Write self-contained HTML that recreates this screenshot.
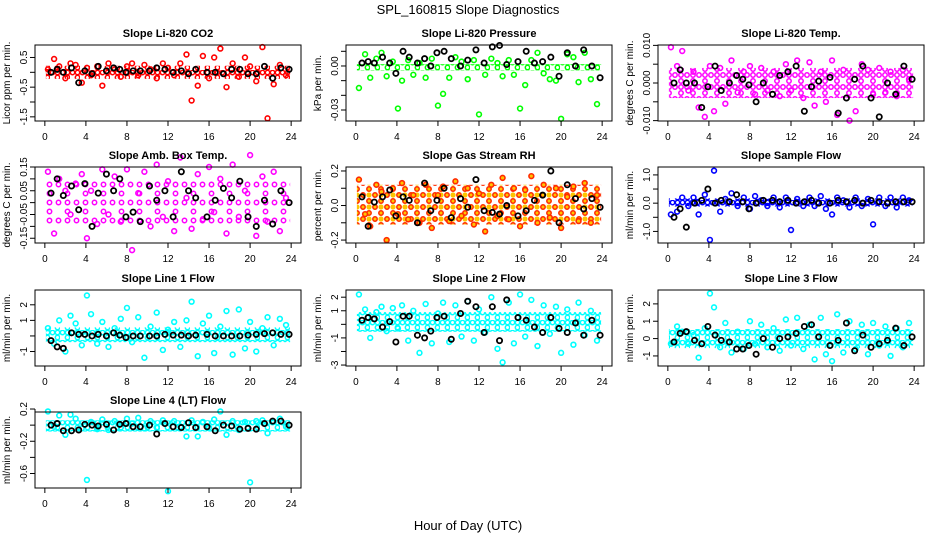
<!DOCTYPE html>
<html><head><meta charset="utf-8"><style>
html,body{margin:0;padding:0;background:#fff;}
svg{display:block;font-family:"Liberation Sans",sans-serif;}
</style></head><body>
<svg id="chart" width="936" height="540" viewBox="0 0 936 540">
<defs id="defs"></defs>
<text x="468" y="14" text-anchor="middle" font-size="13">SPL_160815  Slope Diagnostics</text>
<text x="468" y="530" text-anchor="middle" font-size="13">Hour of Day (UTC)</text>
</svg>
<script>
// shared hours
const xTicks = [0,4,8,12,16,20,24];
const cHours = [0.3,0.9,1.4,2.0,2.5,3.0,3.6,4.1,4.5,5.1,5.6,6.2,6.8,7.4,8.0,8.5,9.1,9.7,10.3,10.9,11.5,12.0,12.6,13.2,13.8,14.3,14.9,15.4,16.0,16.5,17.1,17.7,18.3,18.9,19.5,20.0,20.6,21.2,21.7,22.3,22.9,23.5];
const kHours = [0.6,1.2,1.8,2.6,3.3,3.9,4.6,5.2,6.0,6.7,7.3,7.9,8.6,9.3,10.2,10.9,11.7,12.5,13.3,14.0,14.7,15.8,16.6,17.4,18.2,19.0,19.8,20.6,21.4,22.2,23.0,23.8];

const co2Y = [0.1,0.45,0.2,-0.2,0.3,0.25,-0.35,0.15,-0.1,0.2,-0.45,0.3,0.1,-0.15,0.2,0.3,-0.1,0.25,0.1,-0.2,0.3,0.15,-0.1,0.3,0.6,-0.95,-0.45,0.55,-0.2,0.5,0.8,-0.5,0.3,-0.15,0.5,0.2,-0.3,0.85,-1.55,-0.4,0.25,-0.1];
const co2K = [0,0.1,0,0.15,-0.35,0.05,-0.05,0.2,0.05,0.15,0.1,0,0.05,0.05,0.05,0.15,0.1,0,0.05,-0.05,0.1,0,0,-0.05,0.1,0.1,-0.05,-0.05,0.2,-0.2,0.15,0.1];
const presY = [-0.015,0.008,-0.008,0.005,0.009,-0.007,0.003,-0.029,-0.01,0.004,-0.006,0.002,-0.008,0.005,-0.027,-0.019,-0.008,0.006,0.003,-0.009,0.004,-0.033,-0.006,0.005,0.002,-0.007,0.004,-0.006,-0.029,-0.013,0.004,0.009,-0.005,-0.009,-0.01,-0.036,0.008,0.006,-0.011,0.009,-0.009,-0.026];
const presK = [0.002,0.003,0.002,0.006,0.002,-0.005,0.01,0.006,0.002,0.005,0,0.009,0.01,0.005,0,0.004,0.011,0.002,0.013,0.014,0.001,0.003,0.01,0.002,0.003,0.006,-0.007,0.009,0,0.011,0,-0.008];
const tempY = [0.0095,0.0045,0.0085,-0.002,0.003,-0.0065,-0.009,0.0045,-0.0075,0.004,-0.0055,0.006,-0.0025,0.003,0.0045,-0.003,0.004,-0.002,0.003,-0.0035,0.005,-0.002,0.006,-0.004,0.0055,-0.006,0.003,-0.005,0.006,-0.0085,0.0035,-0.01,-0.0075,0.005,0.0035,-0.003,0.004,-0.0025,0.003,-0.0035,0.0035,0.001];
const tempK = [0,0.0035,0,0,-0.0065,-0.001,0.0045,-0.002,0,0.002,0.001,-0.0005,-0.005,0,-0.003,0.002,0.003,0.0045,-0.0075,-0.001,0.0005,0.0015,-0.008,-0.004,0.001,0.0045,-0.004,-0.009,0,-0.003,0.0045,0.001];
const ambY = [0.13,-0.13,0.1,0.05,-0.05,0.08,0.12,-0.15,0.05,-0.09,0.14,-0.05,0.11,-0.08,0.14,-0.2,0.04,0.13,-0.1,0.16,-0.06,0.09,-0.12,0.19,0.02,-0.11,0.12,-0.07,0.15,-0.04,0.1,-0.13,0.16,-0.06,0.05,0.2,-0.14,0.11,-0.08,0.13,-0.12,0.02];
const ambK = [0.04,0.1,0.03,0.07,-0.03,0.08,-0.1,0.04,0.12,0.05,0.1,-0.06,-0.04,-0.08,0.07,0.01,0.05,-0.06,0.13,0.05,0.02,-0.06,0.01,0.06,0.02,0.09,-0.06,-0.1,0.01,-0.09,0.05,0];
const rhY = [0.15,-0.05,-0.12,0.12,0.08,-0.2,0.1,-0.05,0.13,-0.08,0.06,-0.1,0.12,-0.13,0.06,0.11,-0.09,0.14,-0.06,0.1,-0.11,0.07,-0.15,0.12,-0.06,0.16,-0.08,0.1,-0.12,0.09,0.17,-0.1,0.12,-0.07,0.1,-0.13,0.05,0.11,-0.09,0.13,-0.1,0.06];
const rhK = [0.05,-0.12,0.02,0.05,0.09,-0.06,0.05,0.03,-0.1,0.13,-0.03,0.03,0.1,-0.07,0.04,-0.01,0.15,-0.03,-0.04,-0.05,0,-0.06,-0.03,0.03,0.06,0.2,-0.1,0.12,0.04,-0.02,0.04,-0.01];
const sampY = [-0.4,-0.3,0.2,-0.1,0.2,-0.4,0.3,-1.3,1.15,-0.3,0.15,0.35,-0.1,0.2,-0.2,0.25,0.1,-0.1,0.2,-0.15,0.2,-0.95,0.15,-0.1,0.2,-0.1,0.25,-0.2,-0.4,0.2,0.1,-0.15,0.2,-0.1,0.15,-0.75,0.2,-0.1,0.2,-0.15,0.2,0.1];
const sampK = [-0.5,-0.2,-0.85,0,0.1,0.5,0,0.1,0.05,0.3,0.05,-0.2,0,0.1,0.1,0.05,0.1,0,0.05,0.1,0,0,0.1,0.05,0.1,0,0.1,0.05,0,0.05,0.05,0.05];
const l1Y = [0.5,-0.5,1.0,-1.0,1.3,0.8,-0.6,2.6,1.4,-0.5,0.9,-0.7,0.5,1.1,1.8,-0.4,1.2,-1.4,0.6,1.5,-0.9,0.4,0.9,-0.7,1.0,2.2,-1.3,0.8,1.3,-1.1,0.6,1.6,-1.2,1.7,-0.8,0.9,-1.0,0.5,1.2,-0.6,1.1,0.7];
const l1K = [-0.3,-0.7,-0.8,0.2,0.1,0.1,0,0.1,0,0.2,0.05,-0.1,0,0,0,0,0.1,0.05,0.05,0,0.05,0.1,0,0,0,0,0.05,0.1,0.15,0.2,0.1,0.1];
const l2Y = [2.2,1.1,-1.0,0.9,1.3,-0.5,1.2,-0.3,1.4,-1.2,1.0,-2.1,1.5,-1.4,0.8,1.6,-1.3,1.4,-0.9,1.7,-1.2,1.1,-0.6,2.0,-1.8,-2.8,1.6,-1.4,2.2,-0.9,1.8,-1.6,1.4,-0.7,1.3,-2.1,1.1,-1.5,1.6,-0.8,1.0,-1.2];
const l2K = [0.3,0.5,0.4,-0.2,0.2,-1.3,0.6,0.6,-0.8,-1.0,-0.5,0.5,0.6,-1.1,0.8,1.7,1.3,-0.6,1.3,-1.2,1.8,0.5,0.3,-0.2,-0.6,0.5,-0.3,-0.6,0.1,-0.8,0.3,-0.8];
const l3Y = [-0.3,0.7,0.4,-0.3,0.2,-1.1,0.6,2.6,1.8,-0.5,0.9,-0.8,0.4,-0.6,1.0,-0.3,0.8,-0.5,0.6,-0.7,1.1,-0.4,1.2,-0.6,0.8,-1.2,1.2,-0.9,-1.3,1.4,-0.8,1.0,-0.6,0.8,-0.9,0.9,-0.4,0.7,-1.0,0.6,-0.5,0.9];
const l3K = [-0.2,0.3,0.4,-0.1,-0.3,0.7,0.2,-0.1,-0.2,-0.6,-0.6,-0.4,-0.9,0,-0.5,0,0.1,0.3,0.7,0.8,0.1,-0.4,-0.1,0.9,-0.7,0.2,-0.5,-0.3,-0.1,0.6,-0.4,0.1];
const l4Y = [0.17,-0.02,0.12,-0.12,0.13,0.08,-0.04,-0.68,0.04,-0.05,0.07,-0.06,0.05,-0.03,0.08,0.02,0.09,-0.04,0.05,-0.03,0.06,-0.82,0.05,-0.02,-0.14,0.06,-0.14,0.04,-0.03,0.07,0.17,-0.12,0.05,-0.06,0.04,-0.71,0.05,0.06,-0.1,0.04,0.08,-0.02];
const l4K = [0,0.02,-0.07,-0.07,-0.06,0.01,0,-0.01,0.01,-0.06,0.01,0.02,-0.02,-0.02,0,-0.11,0.02,-0.02,-0.03,0.03,-0.03,-0.02,-0.07,0,-0.01,-0.05,-0.04,-0.05,0.02,0.05,0.05,0];

// dense-band extents [low, high]
const co2Band = [-0.22,0.22], presBand = [-0.003,0.0012], tempBand = [-0.004,0.004], ambBand = [-0.1,0.1];
const rhBand = [-0.11,0.12], sampBand = [-0.12,0.17], l1Band = [-0.4,0.55], l2Band = [-0.55,0.9], l3Band = [-0.55,0.55], l4Band = [-0.08,0.06];

const panels = [
 {id:'co2',title:'Slope Li-820 CO2',yl:'Licor ppm per min.',r:0,c:0,ymin:-1.64,ymax:0.92,ticks:[-1.5,-1,-0.5,0,0.5],labs:{'-1.5':'-1.5','-0.5':'-0.5','0.5':'0.5'},col:'#ff0000',fill:null,y:co2Y,k:co2K,band:co2Band,sp:5},
 {id:'pressure',title:'Slope Li-820 Pressure',yl:'kPa per min.',r:0,c:1,ymin:-0.0375,ymax:0.0143,ticks:[-0.03,-0.02,-0.01,0,0.01],labs:{'-0.03':'-0.03','0':'0.00'},col:'#00ff00',fill:null,y:presY,k:presK,band:presBand,sp:5},
 {id:'temp',title:'Slope Li-820 Temp.',yl:'degrees C per min.',r:0,c:2,ymin:-0.0101,ymax:0.0101,ticks:[-0.01,-0.005,0,0.005,0.01],labs:{'-0.01':'-0.010','0':'0.000','0.01':'0.010'},col:'#ff00ff',fill:null,y:tempY,k:tempK,band:tempBand,sp:6},
 {id:'ambbox',title:'Slope Amb. Box Temp.',yl:'degrees C per min.',r:1,c:0,ymin:-0.17,ymax:0.15,ticks:[-0.15,-0.1,-0.05,0,0.05,0.1,0.15],labs:{'-0.15':'-0.15','-0.05':'-0.05','0.05':'0.05','0.15':'0.15'},col:'#ff00ff',fill:null,y:ambY,k:ambK,band:ambBand,sp:9},
 {id:'rh',title:'Slope Gas Stream RH',yl:'percent per min.',r:1,c:1,ymin:-0.217,ymax:0.223,ticks:[-0.2,-0.1,0,0.1,0.2],labs:{'-0.2':'-0.2','0':'0.0','0.2':'0.2'},col:'#ff2a00',fill:'#ffc400',y:rhY,k:rhK,band:rhBand,sp:6},
 {id:'sampleflow',title:'Slope Sample Flow',yl:'ml/min per min.',r:1,c:2,ymin:-1.41,ymax:1.28,ticks:[-1,-0.5,0,0.5,1],labs:{'-1':'-1.0','0':'0.0','1':'1.0'},col:'#0000ff',fill:null,y:sampY,k:sampK,band:sampBand,sp:5},
 {id:'line1',title:'Slope Line 1 Flow',yl:'ml/min per min.',r:2,c:0,ymin:-1.93,ymax:2.95,ticks:[-1,0,1,2],labs:{'-1':'-1','1':'1','2':'2'},col:'#00ffff',fill:null,y:l1Y,k:l1K,band:l1Band,sp:5},
 {id:'line2',title:'Slope Line 2 Flow',yl:'ml/min per min.',r:2,c:1,ymin:-3.07,ymax:2.53,ticks:[-3,-2,-1,0,1,2],labs:{'-3':'-3','-1':'-1','1':'1','2':'2'},col:'#00ffff',fill:null,y:l2Y,k:l2K,band:l2Band,sp:5},
 {id:'line3',title:'Slope Line 3 Flow',yl:'ml/min per min.',r:2,c:2,ymin:-1.58,ymax:2.8,ticks:[-1,0,1,2],labs:{'-1':'-1','0':'0','1':'1','2':'2'},col:'#00ffff',fill:null,y:l3Y,k:l3K,band:l3Band,sp:5},
 {id:'line4',title:'Slope Line 4 (LT) Flow',yl:'ml/min per min.',r:3,c:0,ymin:-0.78,ymax:0.163,ticks:[-0.6,-0.4,-0.2,0,0.2],labs:{'-0.6':'-0.6','-0.2':'-0.2','0.2':'0.2'},col:'#00ffff',fill:null,y:l4Y,k:l4K,band:l4Band,sp:5}
];

const colLeft = [35,346,658], colRight = [301,612,924], rowTop = [45,167,290,412], boxH = 76;
const NS = 'http://www.w3.org/2000/svg';
const svg = document.getElementById('chart');
const defs = document.getElementById('defs');
function mk(tag, attrs, parent){ const e=document.createElementNS(NS,tag); for(const a in attrs) e.setAttribute(a,attrs[a]); (parent||svg).appendChild(e); return e; }

panels.forEach(p=>{
  const L=colLeft[p.c], R=colRight[p.c], T=rowTop[p.r], B=T+boxH, W=R-L;
  const xs = v => L + W*(v+0.96)/25.92;
  const ys = v => B - boxH*(v-p.ymin)/(p.ymax-p.ymin);
  const g = mk('g',{});
  
  
  const sp=p.sp;
  const pat = mk('pattern',{id:'pat-'+p.id,width:sp*2,height:sp*2,patternUnits:'userSpaceOnUse'},defs);
  if(p.fill){ mk('circle',{cx:sp*0.5,cy:sp*0.5,r:2.6,fill:p.fill},pat); mk('circle',{cx:sp*1.5,cy:sp*1.5,r:2.6,fill:p.fill},pat); mk('circle',{cx:sp*1.5,cy:sp*0.5,r:2.6,fill:p.fill},pat); }
  mk('circle',{cx:sp*0.5,cy:sp*0.5,r:2.2,fill:'none',stroke:p.col,'stroke-width':1.5},pat);
  mk('circle',{cx:sp*1.5,cy:sp*1.5,r:2.2,fill:'none',stroke:p.col,'stroke-width':1.5},pat);
  if(!p.fill) mk('circle',{cx:sp*1.5,cy:sp*0.5,r:2.2,fill:'none',stroke:p.col,'stroke-width':1.5},pat);
  const band = mk('rect',{x:xs(0.1),y:ys(p.band[1]),width:xs(23.9)-xs(0.1),height:ys(p.band[0])-ys(p.band[1]),fill:'url(#pat-'+p.id+')'},g);
  
  
  const n=Math.min(cHours.length,p.y.length);
  for(let i=0;i<n;i++){
    const c=mk('circle',{cx:xs(cHours[i]),cy:ys(p.y[i]),r:2.4,fill:p.fill||'none',stroke:p.col,'stroke-width':1.6},g);
    
    
  }
  const m=Math.min(kHours.length,p.k.length);
  for(let i=0;i<m;i++){
    const c=mk('circle',{cx:xs(kHours[i]),cy:ys(p.k[i]),r:2.6,fill:'none',stroke:'#000','stroke-width':1.8},g);
    
    
  }
  const box=mk('rect',{x:L,y:T,width:W,height:boxH,fill:'none',stroke:'#000','stroke-width':1},g);
  
  
  const t=mk('text',{x:(L+R)/2,y:T-8,'text-anchor':'middle','font-size':11,'font-weight':'bold'},g);
  t.textContent=p.title;
  
  
  mk('line',{x1:xs(0),x2:xs(24),y1:B,y2:B,stroke:'#000'},g);
  xTicks.forEach(v=>{
    mk('line',{x1:xs(v),x2:xs(v),y1:B,y2:B+5,stroke:'#000'},g);
    const tx=mk('text',{x:xs(v),y:B+19,'text-anchor':'middle','font-size':10},g);
    tx.textContent=v;
    
    
  });
  mk('line',{x1:L,x2:L,y1:ys(p.ticks[0]),y2:ys(p.ticks[p.ticks.length-1]),stroke:'#000'},g);
  p.ticks.forEach(v=>{
    mk('line',{x1:L-5,x2:L,y1:ys(v),y2:ys(v),stroke:'#000'},g);
    const lab=p.labs[String(v)];
    if(lab!==undefined){
      const yy=ys(v);
      const ty=mk('text',{x:L-8,y:yy,'text-anchor':'middle','font-size':10,transform:'rotate(-90 '+(L-8)+' '+yy+')'},g);
      ty.textContent=lab;
      
      
    }
  });
  const cy=T+boxH/2;
  const yt=mk('text',{x:L-25,y:cy,'text-anchor':'middle','font-size':10,transform:'rotate(-90 '+(L-25)+' '+cy+')'},g);
  yt.textContent=p.yl;
  
  
});
</script>
</body></html>
